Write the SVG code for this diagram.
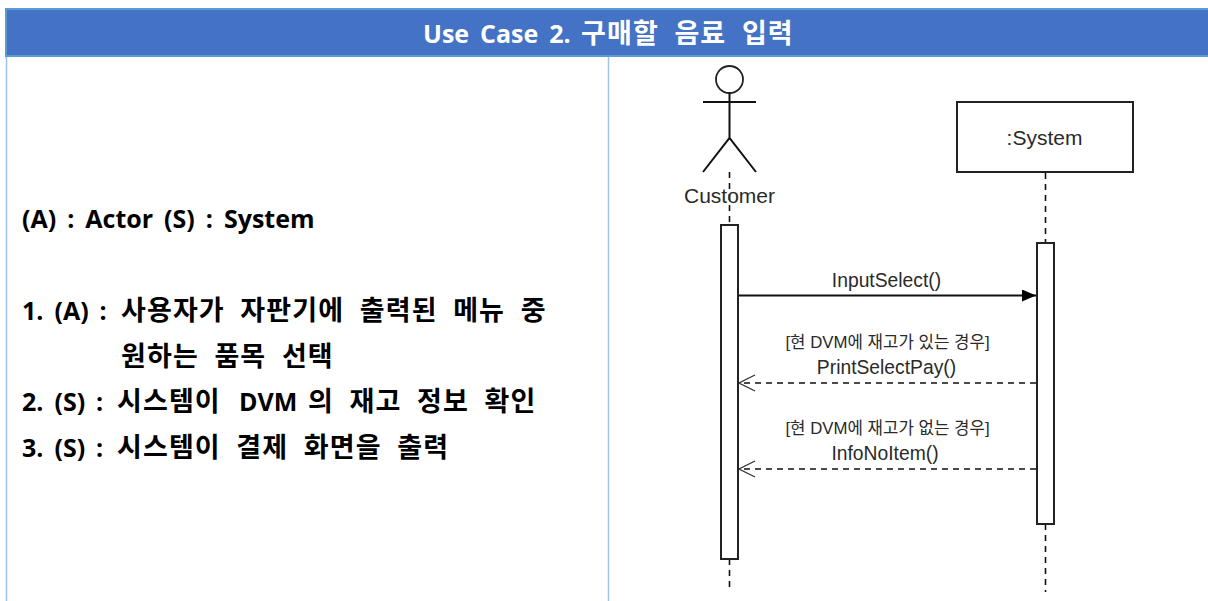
<svg xmlns="http://www.w3.org/2000/svg" width="1208" height="601" viewBox="0 0 1208 601">
<style>
.t{font-family:"Open Sans","Noto Sans CJK KR",sans-serif;font-weight:700}
.la{font-size:25px;word-spacing:4.500px}
.ko{font-size:27px;letter-spacing:1.100px;word-spacing:7.500px}
.d{font-family:"Liberation Sans","Noto Sans CJK KR",sans-serif;fill:#2a2a2a}
.m{font-size:19.300px}
.g{font-size:16.800px}
.ln{stroke:#111;stroke-width:2;fill:none}
.dash{stroke:#111;stroke-width:1.600;stroke-dasharray:6 5;fill:none}
.box{stroke:#222;stroke-width:2;fill:#fff}
</style>
<defs>
<marker id="solid" markerWidth="14" markerHeight="12" refX="14" refY="6" orient="auto" markerUnits="userSpaceOnUse"><path d="M0 0L14 6L0 12Z" fill="#000"/></marker>
<marker id="open" markerWidth="18" markerHeight="20" refX="17" refY="9" orient="auto" markerUnits="userSpaceOnUse"><path d="M1 1L17 9L1 17" fill="none" stroke="#333" stroke-width="1.300"/></marker>
</defs>
<rect width="1208" height="601" fill="#fff"/>
<g id="table">
<rect x="6" y="9" width="1203" height="47" fill="#4472c4" stroke="#5b9bd5" stroke-width="2"/>
<path d="M6.500 57V601M608.500 57V601" stroke="#9dc3e6" stroke-width="1.500" fill="none"/>
<text class="t la" x="423" y="43" fill="#fff">Use Case 2.</text>
<text class="t ko" x="581" y="43" fill="#fff">구매할 음료 입력</text>
</g>
<g id="steps">
<text class="t la" x="22" y="228">(A) : Actor (S) : System</text>
<text class="t la" x="22" y="320">1. (A) :</text>
<text class="t ko" x="121" y="320">사용자가 자판기에 출력된 메뉴 중</text>
<text class="t ko" x="121" y="366">원하는 품목 선택</text>
<text class="t la" x="22" y="411">2. (S) :</text>
<text class="t ko" x="117" y="411">시스템이</text>
<text class="t la" x="239" y="411">DVM</text>
<text class="t ko" x="308" y="411">의 재고 정보 확인</text>
<text class="t la" x="22" y="457">3. (S) :</text>
<text class="t ko" x="117" y="457">시스템이 결제 화면을 출력</text>
</g>
<g id="connectors">
<path class="dash" d="M729.500 172V225M729.500 559V592M1045.500 173V243M1045.500 524V592"/>
<path class="ln" d="M738 295.500H1036" marker-end="url(#solid)"/>
<path class="dash" d="M1036 383H739" marker-end="url(#open)"/>
<path class="dash" d="M1036 469H739" marker-end="url(#open)"/>
</g>
<g id="customer">
<circle cx="729.500" cy="79.500" r="13.500" fill="none" stroke="#222" stroke-width="1.800"/>
<path class="ln" d="M703 102H756M729.500 93V138M703 172L729.500 138L756 172" stroke-width="1.800"/>
<text class="d" x="729.500" y="203" text-anchor="middle" font-size="21">Customer</text>
<rect class="box" x="721" y="225" width="17" height="334"/>
</g>
<g id="system">
<rect class="box" x="957" y="102" width="176" height="70"/>
<text class="d" x="1044.500" y="145" text-anchor="middle" font-size="21">:System</text>
<rect class="box" x="1037" y="243" width="17" height="281"/>
</g>
<g id="labels">
<text class="d m" x="886.500" y="287" text-anchor="middle">InputSelect()</text>
<text class="d g" x="887.500" y="348" text-anchor="middle">[현 DVM에 재고가 있는 경우]</text>
<text class="d m" x="886.500" y="374" text-anchor="middle">PrintSelectPay()</text>
<text class="d g" x="887.500" y="434" text-anchor="middle">[현 DVM에 재고가 없는 경우]</text>
<text class="d m" x="885" y="460" text-anchor="middle">InfoNoItem()</text>
</g>
</svg>
